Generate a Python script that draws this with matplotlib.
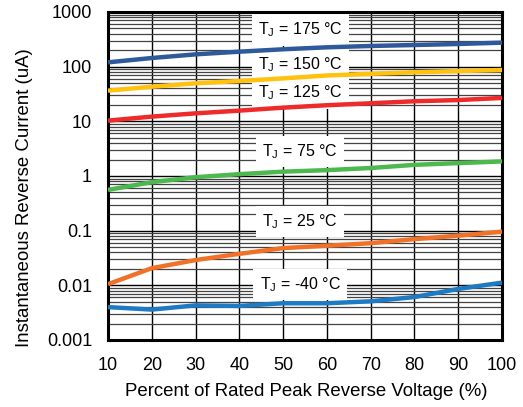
import matplotlib
matplotlib.use("Agg")
import matplotlib.pyplot as plt
import numpy as np

plt.rcParams['font.family'] = ['Liberation Sans', 'DejaVu Sans']

voltage_pct = [10, 20, 30, 40, 50, 60, 70, 80, 90, 100]
i_175 = [120, 144, 168, 188, 208, 226, 239, 249, 260, 275]
i_150 = [36.4, 43, 49.6, 54.7, 61, 69, 74, 79, 83, 87]
i_125 = [10.3, 12.2, 14.0, 15.7, 17.8, 19.7, 21.4, 23.3, 24.5, 26.8]
i_75 = [0.557, 0.77, 0.95, 1.08, 1.2, 1.28, 1.4, 1.6, 1.72, 1.85]
i_25 = [0.0105, 0.0206, 0.029, 0.0377, 0.048, 0.053, 0.059, 0.070, 0.081, 0.096]
i_m40 = [0.0040, 0.0036, 0.0043, 0.0042, 0.0047, 0.0047, 0.0051, 0.0061, 0.0086, 0.0112]

series_vals = [i_175, i_150, i_125, i_75, i_25, i_m40]
series_colors = ['#2E5A9C', '#FFC20E', '#EE2A2A', '#4DB84E', '#F07229', '#1E7BC3']
series_labels = [r'T$_\mathregular{J}$ = 175 °C', r'T$_\mathregular{J}$ = 150 °C',
                 r'T$_\mathregular{J}$ = 125 °C', r'T$_\mathregular{J}$ = 75 °C',
                 r'T$_\mathregular{J}$ = 25 °C', r'T$_\mathregular{J}$ = -40 °C']
label_y_vals = [469, 107, 33, 2.76, 0.145, 0.0102]
label_x = 53.9

fig = plt.figure(figsize=(5.23, 4.07), dpi=100)
ax = fig.add_axes([108/523, 1-340/407, (502-108)/523, (340-12)/407])
ax.set_yscale('log')
ax.set_xlim(10, 100)
ax.set_ylim(0.001, 1000)

ax.set_xticks(range(10, 101, 10))
ax.set_yticks([0.001, 0.01, 0.1, 1, 10, 100, 1000])
ax.set_yticklabels(['0.001', '0.01', '0.1', '1', '10', '100', '1000'])
ax.yaxis.set_minor_locator(matplotlib.ticker.LogLocator(base=10, subs=np.arange(2, 10)))
ax.yaxis.set_minor_formatter(matplotlib.ticker.NullFormatter())
ax.grid(True, which='major', color='black', lw=1.0)
ax.grid(True, which='minor', axis='y', color='#444444', lw=0.9)
ax.tick_params(which='both', length=0)
ax.tick_params(axis='y', pad=11.5, labelsize=13)
ax.tick_params(axis='x', pad=12, labelsize=13)
ax.set_axisbelow(True)

for sp in ax.spines.values():
    sp.set_linewidth(2.2)
    sp.set_color('black')

for vals, col in zip(series_vals, series_colors):
    ax.plot(voltage_pct, vals, color=col, lw=3.2, solid_capstyle='butt', zorder=3)

for lab, ly in zip(series_labels, label_y_vals):
    ax.text(label_x, ly, lab, fontsize=11.5, ha='center', va='center', zorder=2,
            bbox=dict(facecolor='white', edgecolor='none', pad=4.5))

ax.set_xlabel('Percent of Rated Peak Reverse Voltage (%)', fontsize=13.4, va='center')
ax.xaxis.set_label_coords(0.503, -0.1585)
ax.set_ylabel('Instantaneous Reverse Current (uA)', fontsize=13.4, va='center')
ax.yaxis.set_label_coords(-0.212, 0.433)

fig.savefig('out.png', dpi=100)
